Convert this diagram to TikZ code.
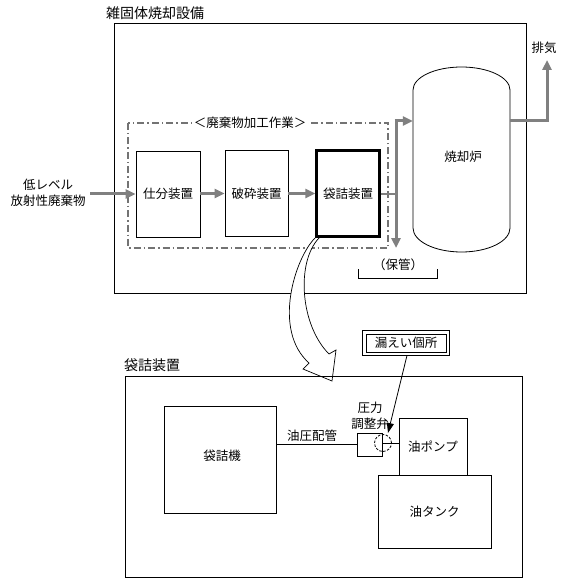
\documentclass[tikz,border=0pt]{standalone}
\usepackage{fontspec}
\setmainfont{Noto Sans CJK JP}
\usetikzlibrary{arrows.meta}
\tikzset{
  box/.style={draw=black, line width=0.8pt, inner sep=0pt, font=\fontsize{12.5}{15}\selectfont},
  garrow/.style={draw=black!50, line width=3pt, -{Triangle[length=10pt,width=9pt]}},
  gline/.style={draw=black!50, line width=3pt},
  lbl/.style={inner sep=0pt, font=\fontsize{12.5}{16}\selectfont, align=center},
  ttl/.style={inner sep=0pt, font=\fontsize{14}{17}\selectfont},
}
\begin{document}
\begin{tikzpicture}[x=1pt,y=-1pt]
\useasboundingbox (0,0) rectangle (565,585);
% ---- upper frame
\node[ttl, anchor=west] (t1) at (106,13) {雑固体焼却設備};
\draw[line width=0.9pt] (114,23) rectangle (526,293);
% dash-dot group
\draw[draw=black!55, line width=1.2pt, dash pattern=on 7pt off 3pt on 1.5pt off 3pt] (128,123) rectangle (388,248);
\node[lbl, fill=white, inner sep=2pt] (grp) at (250,123) {＜廃棄物加工作業＞};
% process boxes
\node[box, minimum width=64pt, minimum height=86pt] (shiwake) at (168,194) {仕分装置};
\node[box, minimum width=63pt, minimum height=86pt] (hasai) at (256.5,193.5) {破砕装置};
\node[box, line width=2.2pt, minimum width=63pt, minimum height=86pt] (fukuro) at (348,193.5) {袋詰装置};
% input
\node[lbl, align=center] (inp) at (48,192.5) {低レベル\\放射性廃棄物};
\coordinate (instart) at (90,194);
\draw[garrow] (instart) -- (shiwake.west |- instart);
\draw[garrow] (shiwake.east |- hasai.west) -- (hasai.west);
\draw[garrow] (hasai.east) -- (fukuro.west);
% furnace
\node[inner sep=0pt, minimum width=97pt, minimum height=138pt] (furnace) at (461.5,159) {};
\draw[line width=0.8pt, fill=white] (413,228) -- (413,90) arc[start angle=180, end angle=360, x radius=48.5, y radius=23] -- (510,228) arc[start angle=0, end angle=180, x radius=48.5, y radius=24] -- cycle;
\node[lbl] (furtext) at (463,157) {焼却炉};
% branch from 袋詰装置
\coordinate (vtop) at (396,121);
\coordinate (vmid) at (396,194);
\coordinate (vbot) at (396,248);
\draw[draw=black!50, line width=1.6pt] (fukuro.east |- vmid) -- (vmid);
\draw[draw=black!50, line width=3pt, -{Triangle[length=10pt,width=9pt]}] (vtop) -- (vbot);
\draw[garrow] ([xshift=-1.5pt]vtop) -- (furnace.west |- vtop);
% exhaust
\coordinate (exc) at (547,121);
\coordinate (extip) at (547,60);
\draw[draw=black!50, line width=3pt, -{Triangle[length=10pt,width=9pt]}] (furnace.east |- vtop) -- (exc) -- (extip);
\node[lbl] (exlbl) at (544,48) {排気};
% storage
\node[lbl] (hokan) at (398,265) {（保管）};
\draw[line width=0.8pt] (358,269) -- (358,278) -- (437,278) -- (437,269);
% big curved hollow arrow
\draw[line width=0.7pt, fill=white] (315,238) .. controls (295,258) and (272,330) .. (309,363)
  -- (303,369) -- (332,381) -- (336,350) -- (329,354)
  .. controls (300,325) and (296,262) .. (319,238);
% ---- lower frame
\node[ttl, anchor=west] (t2) at (124,365) {袋詰装置};
\draw[line width=0.9pt] (125,376) rectangle (522,577);
\node[box, minimum width=112pt, minimum height=107pt] (machine) at (220,459.5) {};
\node[lbl] (machtxt) at (222,456) {袋詰機};
\node[box, minimum width=25pt, minimum height=23pt] (valve) at (369.5,444.5) {};
\draw[line width=0.8pt] (machine.east |- valve.west) -- (valve.west);
\node[lbl] (pipe) at (312,436) {油圧配管};
\node[lbl] (valvelbl) at (370,416) {圧力\\調整弁};
\node[box, minimum width=68pt, minimum height=57pt] (pump) at (433,446.5) {油ポンプ};
\node[box, minimum width=113pt, minimum height=73pt] (tank) at (434.5,511.5) {油タンク};
\node[circle, draw, line width=0.8pt, dash pattern=on 2.5pt off 1.5pt, minimum size=17pt, inner sep=0pt] (circ) at (383,443) {};
\coordinate (vc) at (382,443);
\draw[line width=0.8pt] (vc) -- (pump.west |- vc);
% leak box (double frame)
\node[box, minimum width=80pt, minimum height=18pt] (leak) at (406,343) {漏えい個所};
\draw[line width=0.8pt] ([xshift=-3pt,yshift=3pt]leak.north west) rectangle ([xshift=3pt,yshift=-3pt]leak.south east);
\coordinate (leaktip) at (388,433);
\draw[line width=0.8pt, -{Triangle[length=10pt,width=7pt]}] ([xshift=1pt,yshift=-3pt]leak.south) -- (leaktip);
\end{tikzpicture}
\end{document}
